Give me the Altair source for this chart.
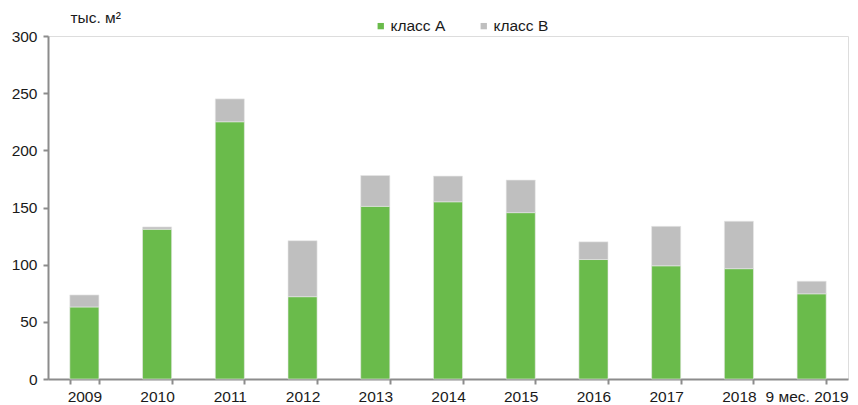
import altair as alt
import pandas as pd

years = ["2009", "2010", "2011", "2012", "2013", "2014", "2015", "2016", "2017", "2018", "9 мес. 2019"]
class_a = [63, 131, 225, 72, 151, 155, 145.5, 104.5, 99, 96.5, 74.5]
class_b = [10.5, 2, 20, 49, 27, 22.5, 28.5, 15.5, 34.5, 41.5, 11]

rows = []
for i, y in enumerate(years):
    rows.append({"year": y, "cls": "класс A", "value": class_a[i], "order": 0})
    rows.append({"year": y, "cls": "класс B", "value": class_b[i], "order": 1})
df = pd.DataFrame(rows)

FONT = "Liberation Sans"
AXIS_COLOR = "#8c8c8c"
FS = 15.5

bars = alt.Chart(df).mark_bar(stroke="#e8e8e8", strokeWidth=0.6).encode(
    x=alt.X("year:N", sort=years, title=None,
            scale=alt.Scale(paddingInner=0.6, paddingOuter=0.3),
            axis=alt.Axis(labelAngle=0, labelFont=FONT, labelFontSize=FS, labelColor="#1a1a1a",
                          domainColor=AXIS_COLOR, domainWidth=2, tickColor=AXIS_COLOR, tickWidth=2,
                          tickSize=5, tickBand="extent", labelPadding=5, labelBound=False,
                          labelOverlap=False,
                          labelOffset={"condition": {"test": "datum.value === '" + years[-1] + "'",
                                                     "value": -5}, "value": 0})),
    y=alt.Y("value:Q", stack="zero",
            scale=alt.Scale(domain=[0, 300], nice=False),
            axis=alt.Axis(values=[0, 50, 100, 150, 200, 250, 300], grid=False,
                          labelFont=FONT, labelFontSize=FS, labelColor="#1a1a1a",
                          domainColor=AXIS_COLOR, domainWidth=2, tickColor=AXIS_COLOR, tickWidth=2,
                          tickSize=5, labelPadding=6,
                          title="тыс. м²", titleAngle=0, titleX=22, titleY=-19,
                          titleAlign="left", titleBaseline="middle", titleFont=FONT,
                          titleFontSize=FS, titleFontWeight="normal", titleColor="#1a1a1a")),
    color=alt.Color("cls:N",
                    scale=alt.Scale(domain=["класс A", "класс B"], range=["#6abb4b", "#bfbfbf"]),
                    legend=alt.Legend(title=None, orient="none", direction="horizontal",
                                      legendX=325, legendY=-18, symbolType="square",
                                      symbolSize=40, symbolStrokeWidth=0, labelFont=FONT,
                                      labelFontSize=FS, labelColor="#1a1a1a", labelOffset=2,
                                      columnPadding=30)),
    order=alt.Order("order:Q"),
)

chart = bars.properties(
    width=800, height=343,
    padding={"left": 40, "top": 28, "right": 2, "bottom": 26},
    autosize=alt.AutoSizeParams(type="none"),
).configure_view(stroke=None).configure(background="white")

chart.save("out.html", embed_options={"renderer": "svg", "actions": False})
